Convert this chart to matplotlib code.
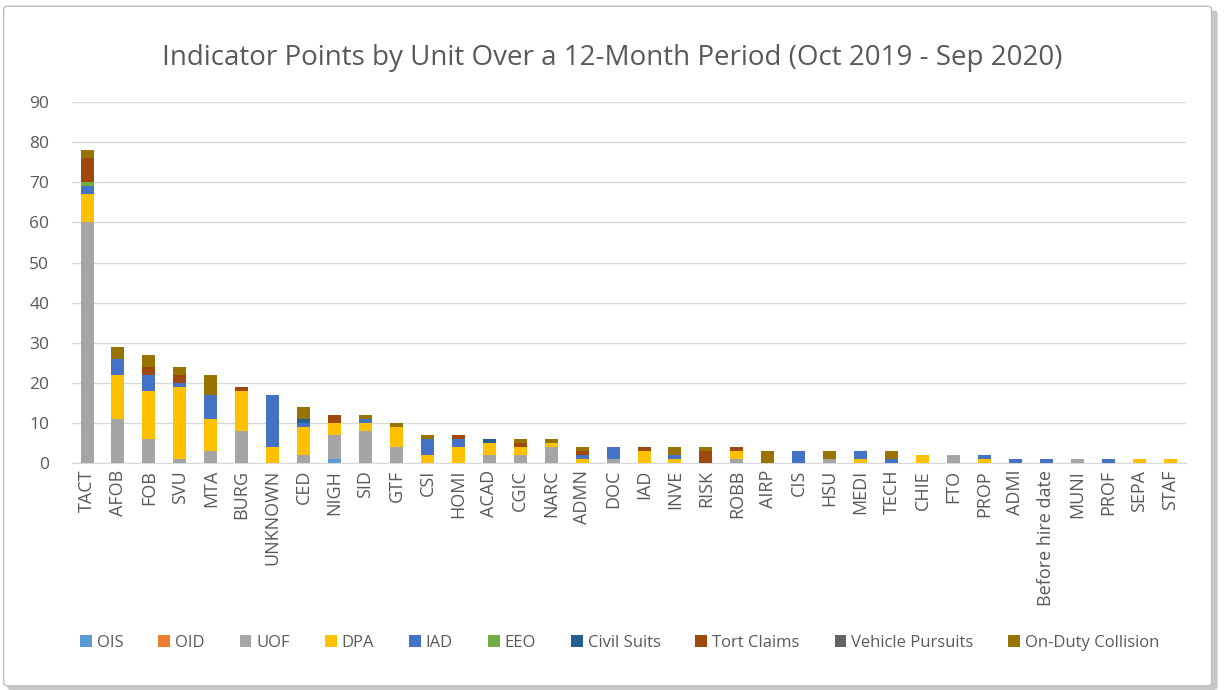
import matplotlib
matplotlib.use("Agg")
import matplotlib.pyplot as plt
import numpy as np
from matplotlib.patches import FancyBboxPatch

plt.rcParams['font.family'] = ['Open Sans', 'DejaVu Sans']

categories = ["TACT", "AFOB", "FOB", "SVU", "MTA", "BURG", "UNKNOWN", "CED", "NIGH", "SID",
              "GTF", "CSI", "HOMI", "ACAD", "CGIC", "NARC", "ADMN", "DOC", "IAD", "INVE",
              "RISK", "ROBB", "AIRP", "CIS", "HSU", "MEDI", "TECH", "CHIE", "FTO", "PROP",
              "ADMI", "Before hire date", "MUNI", "PROF", "SEPA", "STAF"]

ois =        [0, 0, 0, 0, 0, 0, 0, 0, 1, 0, 0, 0, 0, 0, 0, 0, 0, 0, 0, 0, 0, 0, 0, 0, 0, 0, 0, 0, 0, 0, 0, 0, 0, 0, 0, 0]
oid =        [0] * 36
uof =        [60, 11, 6, 1, 3, 8, 0, 2, 6, 8, 4, 0, 0, 2, 2, 4, 0, 1, 0, 0, 0, 1, 0, 0, 1, 0, 0, 0, 2, 0, 0, 0, 1, 0, 0, 0]
dpa =        [7, 11, 12, 18, 8, 10, 4, 7, 3, 2, 5, 2, 4, 3, 2, 1, 1, 0, 3, 1, 0, 2, 0, 0, 0, 1, 0, 2, 0, 1, 0, 0, 0, 0, 1, 1]
iad =        [2, 4, 4, 1, 6, 0, 13, 1, 0, 1, 0, 4, 2, 0, 0, 0, 1, 3, 0, 1, 0, 0, 0, 3, 0, 2, 1, 0, 0, 1, 1, 1, 0, 1, 0, 0]
eeo =        [1, 0, 0, 0, 0, 0, 0, 0, 0, 0, 0, 0, 0, 0, 0, 0, 0, 0, 0, 0, 0, 0, 0, 0, 0, 0, 0, 0, 0, 0, 0, 0, 0, 0, 0, 0]
civil_suits = [0, 0, 0, 0, 0, 0, 0, 1, 0, 0, 0, 0, 0, 1, 0, 0, 0, 0, 0, 0, 0, 0, 0, 0, 0, 0, 0, 0, 0, 0, 0, 0, 0, 0, 0, 0]
tort_claims = [6, 0, 2, 2, 0, 1, 0, 0, 2, 0, 0, 0, 1, 0, 1, 0, 1, 0, 1, 0, 3, 1, 0, 0, 0, 0, 0, 0, 0, 0, 0, 0, 0, 0, 0, 0]
vehicle_pursuits = [0] * 36
collision =  [2, 3, 3, 2, 5, 0, 0, 3, 0, 1, 1, 1, 0, 0, 1, 1, 1, 0, 0, 2, 1, 0, 3, 0, 2, 0, 2, 0, 0, 0, 0, 0, 0, 0, 0, 0]

series_names = ["OIS", "OID", "UOF", "DPA", "IAD", "EEO", "Civil Suits", "Tort Claims",
                "Vehicle Pursuits", "On-Duty Collision"]
series_values = [ois, oid, uof, dpa, iad, eeo, civil_suits, tort_claims, vehicle_pursuits, collision]
colors = ["#5B9BD5", "#ED7D31", "#A5A5A5", "#FFC000", "#4472C4", "#70AD47",
          "#255E91", "#9E480E", "#636363", "#997300"]

fig = plt.figure(figsize=(12.25, 6.9), dpi=100)

# frame with shadow
shadow = FancyBboxPatch((0.006, 0.0), 0.988, 0.985, boxstyle="round,pad=0,rounding_size=0.004",
                        transform=fig.transFigure, facecolor="#C8C8C8", edgecolor="none", zorder=-2)
frame = FancyBboxPatch((0.003, 0.006), 0.986, 0.985, boxstyle="round,pad=0,rounding_size=0.004",
                       transform=fig.transFigure, facecolor="white", edgecolor="#BFBFBF",
                       linewidth=1.0, zorder=-1)
fig.patches.extend([shadow, frame])

ax = fig.add_axes([0.0584, 0.329, 0.9094, 0.523])
ax.set_facecolor("none")
x = np.arange(len(categories))
bottom = np.zeros(len(categories))
for name, vals, c in zip(series_names, series_values, colors):
    v = np.array(vals, dtype=float)
    ax.bar(x, v, bottom=bottom, width=0.42, color=c, label=name, zorder=3)
    bottom += v

ax.set_xlim(-0.5, len(categories) - 0.5)
ax.set_ylim(0, 90)
ax.set_yticks(np.arange(0, 91, 10))
ax.yaxis.grid(True, color="#D9D9D9", linewidth=1.0, zorder=0)
ax.set_axisbelow(True)
for s in ["top", "right", "left"]:
    ax.spines[s].set_visible(False)
ax.spines["bottom"].set_color("#D9D9D9")
ax.tick_params(axis="both", length=0, colors="#595959")
ax.tick_params(axis="y", pad=16, labelsize=12.5)
ax.tick_params(axis="x", pad=5, labelsize=13)
ax.set_xticks(x)
ax.set_xticklabels(categories, rotation=90)

fig.text(0.5, 0.916, "Indicator Points by Unit Over a 12-Month Period (Oct 2019 - Sep 2020)",
         ha="center", va="center", fontsize=20, color="#595959")

handles, labels = ax.get_legend_handles_labels()
fig.legend(handles, labels, loc="center", bbox_to_anchor=(0.506, 0.068), ncol=10,
           frameon=False, fontsize=12, labelcolor="#595959", handlelength=0.7,
           handleheight=0.7, handletextpad=0.3, columnspacing=2.1)

fig.savefig("out.png", dpi=100)
